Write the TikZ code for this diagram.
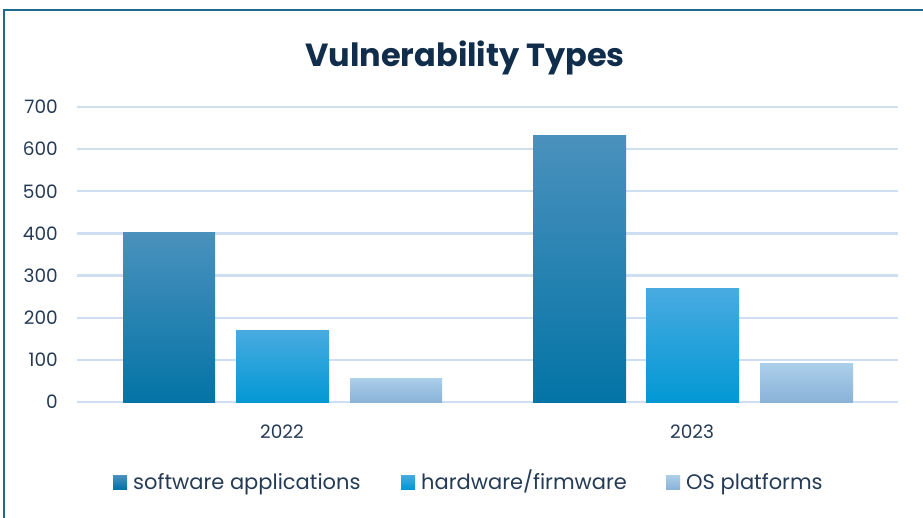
\documentclass[tikz,border=0pt]{standalone}
\usepackage{fontspec}
\setmainfont{Poppins}
\definecolor{frame}{HTML}{1F6A8E}
\definecolor{grid}{HTML}{CFDFF2}
\definecolor{txt}{HTML}{253B55}
\definecolor{ttl}{HTML}{102E4C}
\definecolor{swTop}{HTML}{4A91BD}
\definecolor{swMid}{HTML}{0382B6}
\definecolor{swBot}{HTML}{0374A6}
\definecolor{hwTop}{HTML}{48ABE0}
\definecolor{hwMid}{HTML}{06A3DF}
\definecolor{hwBot}{HTML}{0298D4}
\definecolor{osTop}{HTML}{ACCFEA}
\definecolor{osMid}{HTML}{9EC6E6}
\definecolor{osBot}{HTML}{8AB3D8}
\tikzset{
  sw/.style={top color=swTop, middle color=swMid, bottom color=swBot},
  hw/.style={top color=hwTop, middle color=hwMid, bottom color=hwBot},
  os/.style={top color=osTop, middle color=osMid, bottom color=osBot},
  gridline/.style={draw=grid, line width=2.2pt},
  ylab/.style={anchor=east, text=txt, font=\fontsize{18.5}{18.5}\selectfont, inner sep=0pt},
  xlab/.style={anchor=base, text=txt, font=\fontsize{18.5}{18.5}\selectfont, inner sep=0pt},
  leg/.style={anchor=base west, text=txt, font=\fontsize{21}{21}\selectfont, inner sep=0pt},
}
\begin{document}
\begin{tikzpicture}[x=1pt,y=-1pt]
\useasboundingbox (0,0) rectangle (923,518);
\fill[white] (0,0) rectangle (923,518);
% frame
\draw[frame, line width=2.2pt] (923,10) -- (4,10) -- (4,518);
% title
\node[anchor=base, text=ttl, font=\bfseries\fontsize{32}{32}\selectfont, inner sep=0pt] (title) at (465,67) {Vulnerability Types};
% grid and y labels
\foreach \v [count=\i from 0] in {0,100,200,300,400,500,600,700} {
  \pgfmathsetmacro{\yy}{402-42.14*\i}
  \draw[gridline] (77,\yy) -- (898,\yy);
  \node[ylab] (y\i) at (58,\yy) {\v};
}
% bars 2022
\shade[sw] (123,402) rectangle (215,233);
\shade[hw] (236,402) rectangle (329,331);
\shade[os] (350,402) rectangle (442,378);
% bars 2023
\shade[sw] (533,402) rectangle (626,136);
\shade[hw] (646,402) rectangle (739,289);
\shade[os] (760,402) rectangle (853,363);
% category labels
\node[xlab] (c1) at (282,438) {2022};
\node[xlab] (c2) at (692,438) {2023};
% legend
\shade[sw] (113,475) rectangle (127,489);
\node[leg] (l1) at (133,489) {software applications};
\shade[hw] (401,475) rectangle (415,489);
\node[leg] (l2) at (421,489) {hardware/firmware};
\shade[os] (666,475) rectangle (680,489);
\node[leg] (l3) at (686,489) {OS platforms};
\end{tikzpicture}
\end{document}
